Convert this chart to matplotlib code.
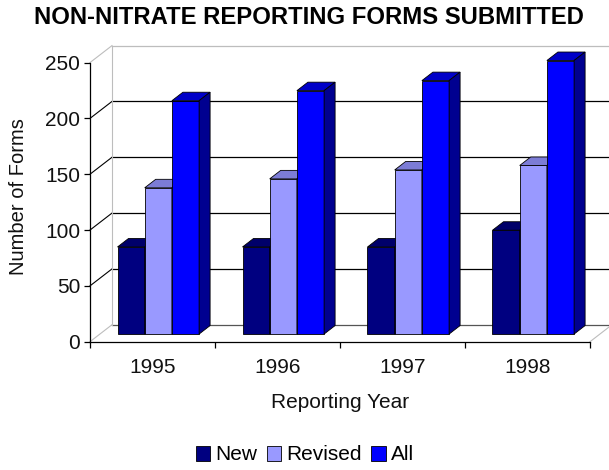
import matplotlib
matplotlib.use("Agg")

import numpy as np
import matplotlib.pyplot as plt
from matplotlib.patches import Polygon, Patch

plt.rcParams['font.family'] = ['Liberation Sans', 'DejaVu Sans']

# Data
years = ['1995', '1996', '1997', '1998']
series = ['New', 'Revised', 'All']
new_forms = [78, 78, 78, 93]
revised_forms = [131, 139, 147, 151]
all_forms = [209, 218, 227, 245]
y_ticks = [0, 50, 100, 150, 200, 250]

values = [new_forms, revised_forms, all_forms]
front_cols = ['#000080', '#9999FF', '#0000FF']
top_cols = ['#00006A', '#7C7CD6', '#0000C8']
side_cols = ['#00004C', '#6A6AB8', '#000090']

# fake 3D depth (in data units)
DX, DY = 0.176, 15.2
G, W = 0.22, 0.2176          # group offset and bar width in category units
F0 = 0.45                     # depth of bar front face
BD = 0.5                      # bar depth as share of floor depth

fig = plt.figure(figsize=(6.09, 4.70), dpi=100)
ax = fig.add_axes([90 / 609, 1 - 341.7 / 470, 522 / 609, 296.1 / 470])
ax.set_xlim(0, 4 + DX)
ax.set_ylim(0, 250 + DY)

# walls and gridlines
grey = '#bdbdbd'
for v in y_ticks:
    c = 'black' if 0 < v < 250 else grey
    ax.plot([0, DX], [v, v + DY], color=c, lw=0.8, zorder=1, clip_on=False)
    ax.plot([DX, 4 + DX], [v + DY, v + DY], color=c if v > 0 else '#555555',
            lw=0.9, zorder=1, clip_on=False)
ax.plot([DX, DX], [DY, 250 + DY], color=grey, lw=0.8, zorder=1)
ax.plot([4, 4 + DX], [0, DY], color=grey, lw=0.8, zorder=1, clip_on=False)

# bars: front faces through ax.bar, tops and sides as polygons
base = F0 * DY
ddx, ddy = BD * DX, BD * DY
for s, vals in enumerate(values):
    xs = np.arange(len(years)) + G + s * W
    ax.bar(xs, vals, width=W, bottom=base, align='edge', color=front_cols[s],
           edgecolor='black', linewidth=0.6, zorder=3 + s)
    for x0, v in zip(xs, vals):
        top = base + v
        x1 = x0 + W
        ax.add_patch(Polygon([(x0, top), (x1, top), (x1 + ddx, top + ddy),
                              (x0 + ddx, top + ddy)], closed=True,
                             facecolor=top_cols[s], edgecolor='black',
                             linewidth=0.6, zorder=3 + s))
        ax.add_patch(Polygon([(x1, base), (x1 + ddx, base + ddy),
                              (x1 + ddx, top + ddy), (x1, top)], closed=True,
                             facecolor=side_cols[s], edgecolor='black',
                             linewidth=0.6, zorder=3 + s))

# axes
for sp in ['top', 'right']:
    ax.spines[sp].set_visible(False)
ax.spines['left'].set_bounds(0, 250)
ax.spines['bottom'].set_bounds(0, 4)
ax.spines['left'].set_linewidth(0.9)
ax.spines['bottom'].set_linewidth(0.9)

ax.set_yticks(y_ticks)
ax.tick_params(axis='y', direction='out', length=4, width=0.9, labelsize=15,
               pad=3, labelcolor='#111111')
ax.set_xticks(np.arange(5))
ax.set_xticklabels([])
ax.set_xticks(np.arange(4) + 0.5, minor=True)
ax.set_xticklabels(years, minor=True)
ax.tick_params(axis='x', which='major', direction='out', length=4, width=0.9)
ax.tick_params(axis='x', which='minor', length=0, labelsize=15, pad=12,
               labelcolor='#111111')

ax.set_xlabel('Reporting Year', fontsize=15, color='#111111')
ax.xaxis.set_label_coords(2 / (4 + DX), -(402 - 341.7) / 296.1)
ax.xaxis.label.set_va('center')
ax.set_ylabel('Number of Forms', fontsize=14.5, color='#111111')
ax.yaxis.set_label_coords((18 - 90) / 522, (341.7 - 197) / 296.1)
ax.yaxis.label.set_va('center')

fig.text(309 / 609, 1 - 18 / 470, 'NON-NITRATE REPORTING FORMS SUBMITTED',
         ha='center', va='center', fontsize=17.2, fontweight='bold')

handles = [Patch(facecolor=front_cols[s], edgecolor='black', linewidth=0.6)
           for s in range(3)]
fig.legend(handles, series, loc='center', ncol=3, frameon=False,
           bbox_to_anchor=(305 / 609, 1 - 455 / 470), fontsize=15,
           handlelength=0.7, handleheight=0.7, handletextpad=0.25,
           columnspacing=0.45)

fig.savefig('out.png', dpi=100)
